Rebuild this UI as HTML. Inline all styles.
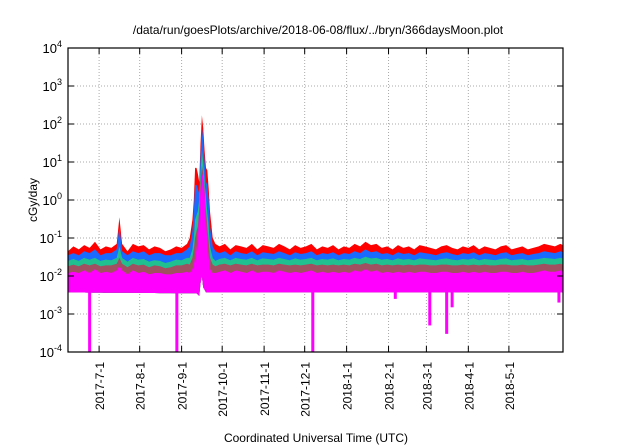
<!DOCTYPE html>
<html><head><meta charset="utf-8"><style>
html,body{margin:0;padding:0;background:#fff}
svg{display:block;font-family:"Liberation Sans",sans-serif}
</style></head><body>
<svg id="chart" width="640" height="448" viewBox="0 0 640 448" xmlns="http://www.w3.org/2000/svg">
<rect width="640" height="448" fill="#fff"/>
<text x="318" y="34" text-anchor="middle" font-size="12">/data/run/goesPlots/archive/2018-06-08/flux/../bryn/366daysMoon.plot</text>
<g id="grid"></g>
<g id="series"></g>
<g id="axes"></g>
<text transform="translate(37,200) rotate(-90)" text-anchor="middle" font-size="12">cGy/day</text>
<text x="316" y="442" text-anchor="middle" font-size="12">Coordinated Universal Time (UTC)</text>
</svg>
<script>
const days = [0,4,8,12,16,20,24,28,32,36,38,40,44,48,52,56,60,64,68,72,76,80,84,88,
90,92,93,94,95,96,97,98,99,100,101,102,103,104,105,107,109,
112,116,120,124,128,132,136,140,144,148,152,156,160,164,168,172,176,180,184,188,192,196,200,204,208,212,216,220,224,228,232,236,240,244,248,252,256,260,264,268,272,276,280,284,288,292,296,300,304,308,312,316,320,324,328,332,336,340,344,348,352,356,360,364,366];
const red = [0.045,0.06,0.05,0.065,0.055,0.08,0.05,0.06,0.055,0.07,0.35,0.07,0.045,0.07,0.06,0.065,0.05,0.06,0.055,0.045,0.05,0.06,0.055,0.07,
0.1,0.3,1,7,7,5,3,30,170,80,20,7,6,2,0.5,0.1,0.07,
0.06,0.07,0.05,0.065,0.06,0.055,0.07,0.05,0.065,0.06,0.055,0.07,0.06,0.05,0.065,0.055,0.06,0.07,0.05,0.06,0.055,0.065,0.05,0.06,0.055,0.07,0.06,0.08,0.065,0.07,0.055,0.06,0.05,0.065,0.055,0.06,0.05,0.065,0.06,0.055,0.05,0.06,0.065,0.055,0.05,0.06,0.055,0.065,0.05,0.06,0.055,0.05,0.06,0.065,0.05,0.055,0.06,0.05,0.055,0.06,0.07,0.065,0.06,0.07,0.065];
const blue = [0.035,0.04,0.035,0.045,0.04,0.05,0.035,0.04,0.04,0.05,0.2,0.045,0.035,0.045,0.04,0.045,0.035,0.04,0.04,0.035,0.035,0.04,0.04,0.05,
0.06,0.15,0.5,2.5,2.5,2,1.5,15,80,40,10,3,2.5,1,0.2,0.06,0.045,
0.04,0.045,0.035,0.045,0.04,0.038,0.045,0.035,0.042,0.04,0.038,0.045,0.04,0.035,0.042,0.038,0.04,0.045,0.035,0.04,0.038,0.042,0.035,0.04,0.038,0.045,0.04,0.05,0.042,0.045,0.038,0.04,0.035,0.042,0.038,0.04,0.035,0.042,0.04,0.038,0.035,0.04,0.042,0.038,0.035,0.04,0.038,0.042,0.035,0.04,0.038,0.035,0.04,0.042,0.035,0.038,0.04,0.035,0.038,0.04,0.045,0.042,0.04,0.045,0.042];
const green = [0.025,0.028,0.025,0.03,0.027,0.03,0.025,0.027,0.026,0.03,0.06,0.03,0.024,0.03,0.027,0.028,0.024,0.026,0.025,0.022,0.024,0.027,0.026,0.03,
0.03,0.05,0.1,0.3,0.4,0.5,1,5,20,10,3,1,0.5,0.2,0.06,0.03,0.025,
0.028,0.03,0.026,0.03,0.028,0.027,0.03,0.026,0.029,0.028,0.027,0.03,0.028,0.026,0.029,0.027,0.028,0.03,0.026,0.028,0.027,0.029,0.026,0.028,0.027,0.03,0.028,0.032,0.029,0.03,0.027,0.028,0.026,0.029,0.027,0.028,0.026,0.029,0.028,0.027,0.026,0.028,0.029,0.027,0.026,0.028,0.027,0.029,0.026,0.028,0.027,0.026,0.028,0.029,0.026,0.027,0.028,0.026,0.027,0.028,0.03,0.029,0.028,0.03,0.029];
const brown = [0.018,0.02,0.018,0.021,0.019,0.021,0.018,0.019,0.019,0.021,0.03,0.021,0.017,0.021,0.019,0.02,0.017,0.019,0.018,0.016,0.017,0.019,0.019,0.021,
0.02,0.03,0.05,0.1,0.15,0.2,0.5,3,8,5,2,0.5,0.2,0.08,0.03,0.02,0.018,
0.02,0.021,0.019,0.021,0.02,0.019,0.021,0.019,0.02,0.02,0.019,0.021,0.02,0.019,0.02,0.019,0.02,0.021,0.019,0.02,0.019,0.02,0.019,0.02,0.019,0.021,0.02,0.022,0.02,0.021,0.019,0.02,0.019,0.02,0.019,0.02,0.019,0.02,0.02,0.019,0.019,0.02,0.02,0.019,0.019,0.02,0.019,0.02,0.019,0.02,0.019,0.019,0.02,0.02,0.019,0.019,0.02,0.019,0.019,0.02,0.021,0.02,0.02,0.021,0.02];
const magenta = [0.012,0.013,0.012,0.014,0.012,0.015,0.012,0.013,0.012,0.014,0.018,0.014,0.011,0.014,0.012,0.013,0.011,0.012,0.012,0.011,0.011,0.012,0.012,0.013,
0.012,0.015,0.02,0.03,0.05,0.1,0.5,2,5,4,1.5,0.3,0.08,0.03,0.015,0.012,0.012,
0.013,0.014,0.012,0.014,0.013,0.012,0.014,0.012,0.013,0.013,0.012,0.014,0.013,0.012,0.013,0.012,0.013,0.014,0.012,0.013,0.012,0.013,0.012,0.013,0.012,0.014,0.013,0.015,0.013,0.014,0.012,0.013,0.012,0.013,0.012,0.013,0.012,0.013,0.013,0.012,0.012,0.013,0.013,0.012,0.012,0.013,0.012,0.013,0.012,0.013,0.012,0.012,0.013,0.013,0.012,0.012,0.013,0.012,0.012,0.013,0.014,0.013,0.013,0.014,0.013];
const floorDays = [0,95,97,99,100,102,366];
const floorVals = [0.0037,0.0035,0.003,0.01,0.005,0.0037,0.0037];
const dipDays = [16,80.5,181,242,267.5,280,284,363];
const dipVals = [0.0001,0.0001,0.0001,0.0025,0.0005,0.0003,0.0015,0.002];
const yTicks = [4,3,2,1,0,-1,-2,-3,-4];
const xTickDays = [23,53,84,114,145,175,206,237,265,296,326];
const xTickLabels = ["2017-7-1","2017-8-1","2017-9-1","2017-10-1","2017-11-1","2017-12-1","2018-1-1","2018-2-1","2018-3-1","2018-4-1","2018-5-1"];

const L=68,R=563,T=48,B=352;
const NS="http://www.w3.org/2000/svg";
function x(d){return L+d*(R-L)/366;}
function y(v){return T+(4-Math.log10(v))*(B-T)/8;}
function mk(tag,attrs,parent){const e=document.createElementNS(NS,tag);for(const k in attrs)e.setAttribute(k,attrs[k]);parent.appendChild(e);return e;}
function floorAt(d){for(let i=1;i<floorDays.length;i++){if(d<=floorDays[i]){const t=(d-floorDays[i-1])/(floorDays[i]-floorDays[i-1]);return floorVals[i-1]+t*(floorVals[i]-floorVals[i-1]);}}return floorVals[floorVals.length-1];}
const grid=document.getElementById('grid'),ser=document.getElementById('series'),axes=document.getElementById('axes');
yTicks.forEach(p=>{
  if(p>-4&&p<4){const g=mk('line',{x1:L,x2:R,y1:y(Math.pow(10,p)),y2:y(Math.pow(10,p)),stroke:'#aaa','stroke-width':1,'stroke-dasharray':'1,2'},grid);
  
  }
  const t=mk('text',{x:62,y:y(Math.pow(10,p))+5,'text-anchor':'end','font-size':13},axes);
  
  
  t.innerHTML='10<tspan dy="-6" font-size="9">'+p+'</tspan>';
  mk('line',{x1:L,x2:L+6,y1:y(Math.pow(10,p)),y2:y(Math.pow(10,p)),stroke:'#000'},axes);
  mk('line',{x1:R-6,x2:R,y1:y(Math.pow(10,p)),y2:y(Math.pow(10,p)),stroke:'#000'},axes);
});
xTickDays.forEach((d,i)=>{
  const g=mk('line',{x1:x(d),x2:x(d),y1:T,y2:B,stroke:'#aaa','stroke-width':1,'stroke-dasharray':'1,2'},grid);
  
  
  mk('line',{x1:x(d),x2:x(d),y1:B-6,y2:B,stroke:'#000'},axes);
  mk('line',{x1:x(d),x2:x(d),y1:T,y2:T+6,stroke:'#000'},axes);
  const t=mk('text',{transform:'translate('+(x(d)+5)+',362) rotate(-90)','text-anchor':'end','font-size':12},axes);
  
  
  t.textContent=xTickLabels[i];
});
const S=[['red',red,'#ff0000'],['blue',blue,'#1a6aff'],['green',green,'#20c090'],['brown',brown,'#a05060'],['magenta',magenta,'#ff00ff']];
S.forEach(([n,vals,c])=>{
  let pts=days.map((d,i)=>x(d).toFixed(1)+','+y(vals[i]).toFixed(1));
  for(let i=days.length-1;i>=0;i--)pts.push(x(days[i]).toFixed(1)+','+y(floorAt(days[i])).toFixed(1));
  const p=mk('polygon',{points:pts.join(' '),fill:c},ser);
  
  
});
dipDays.forEach((d,i)=>{
  const r=mk('rect',{x:x(d)-1.5,width:3,y:y(floorAt(d))-1,height:y(dipVals[i])-y(floorAt(d))+1,fill:'#ff00ff'},ser);
  
  
});
const f=mk('rect',{x:L,y:T,width:R-L,height:B-T,fill:'none',stroke:'#000','stroke-width':1.2},axes);


</script>
</body></html>
